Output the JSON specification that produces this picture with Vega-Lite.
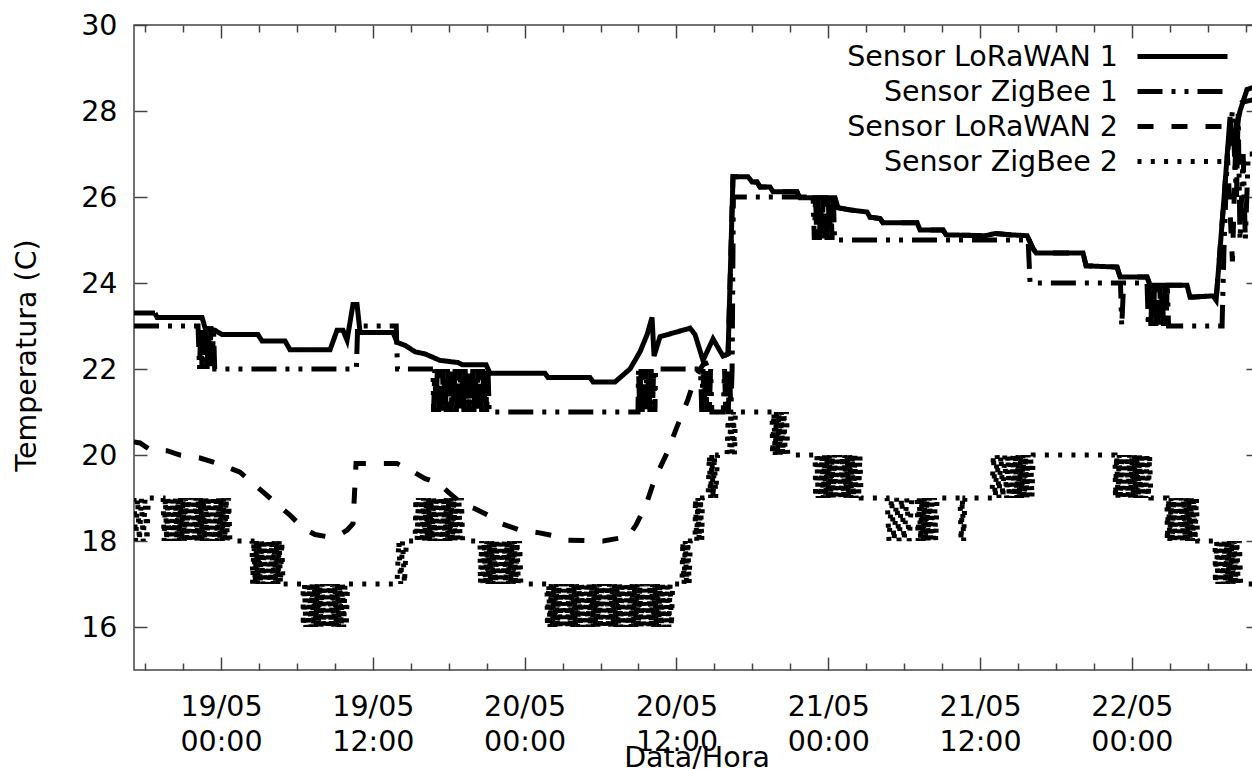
{
"$schema": "https://vega.github.io/schema/vega-lite/v6.json",
"width": 1125, "height": 645,
"autosize": {"type": "none"},
"padding": {"left": 134, "top": 25, "right": 0, "bottom": 99},
"background": "white",
"config": {
  "font": "DejaVu Sans",
  "view": {"stroke": "#444444", "strokeWidth": 1.5},
  "axis": {"domain": false, "grid": false, "tickColor": "#444444", "tickWidth": 1.5, "labelColor": "black", "titleColor": "black", "labelFont": "DejaVu Sans", "titleFont": "DejaVu Sans", "labelFontSize": 28.5, "titleFontSize": 28.5, "titleFontWeight": "normal"}
},
"datasets": {
"l1": [{"h":17.12,"v":23.3},{"h":18.78,"v":23.3},{"h":18.94,"v":23.2},{"h":22.5,"v":23.2},{"h":22.74,"v":22.95},{"h":23.53,"v":22.9},{"h":24.08,"v":22.8},{"h":26.92,"v":22.8},{"h":27.24,"v":22.65},{"h":29.06,"v":22.65},{"h":29.45,"v":22.45},{"h":32.62,"v":22.45},{"h":33.17,"v":22.9},{"h":33.64,"v":22.9},{"h":33.96,"v":22.67},{"h":34.43,"v":23.5},{"h":34.75,"v":23.5},{"h":34.99,"v":22.85},{"h":37.6,"v":22.85},{"h":37.91,"v":22.62},{"h":38.55,"v":22.55},{"h":39.34,"v":22.4},{"h":40.13,"v":22.35},{"h":41.31,"v":22.2},{"h":42.74,"v":22.15},{"h":43.05,"v":22.1},{"h":44.95,"v":22.1},{"h":45.26,"v":21.9},{"h":49.61,"v":21.9},{"h":49.85,"v":21.8},{"h":53.17,"v":21.8},{"h":53.41,"v":21.7},{"h":55.15,"v":21.7},{"h":55.54,"v":21.8},{"h":56.33,"v":22.0},{"h":57.12,"v":22.4},{"h":57.68,"v":22.8},{"h":58.07,"v":23.2},{"h":58.23,"v":22.3},{"h":58.7,"v":22.75},{"h":59.89,"v":22.85},{"h":61.08,"v":22.95},{"h":61.47,"v":22.8},{"h":62.1,"v":22.2},{"h":62.89,"v":22.7},{"h":63.68,"v":22.3},{"h":64.08,"v":22.35},{"h":64.47,"v":26.47},{"h":65.66,"v":26.47},{"h":65.98,"v":26.35},{"h":66.37,"v":26.35},{"h":66.61,"v":26.23},{"h":67.4,"v":26.23},{"h":67.64,"v":26.12},{"h":69.53,"v":26.12},{"h":69.77,"v":25.98},{"h":72.54,"v":25.98},{"h":72.77,"v":25.75},{"h":73.72,"v":25.7},{"h":75.07,"v":25.65},{"h":75.3,"v":25.53},{"h":76.09,"v":25.5},{"h":76.33,"v":25.4},{"h":79.02,"v":25.4},{"h":79.26,"v":25.23},{"h":81.08,"v":25.23},{"h":81.31,"v":25.12},{"h":84.4,"v":25.1},{"h":85.19,"v":25.15},{"h":86.37,"v":25.12},{"h":87.72,"v":25.1},{"h":88.19,"v":24.8},{"h":88.43,"v":24.7},{"h":92.14,"v":24.7},{"h":92.38,"v":24.4},{"h":94.83,"v":24.37},{"h":95.07,"v":24.14},{"h":97.2,"v":24.14},{"h":97.44,"v":23.95},{"h":100.36,"v":23.95},{"h":100.6,"v":23.67},{"h":102.42,"v":23.7},{"h":102.66,"v":23.6},{"h":103.29,"v":26.0},{"h":103.76,"v":27.86},{"h":104.0,"v":27.2},{"h":104.55,"v":28.0},{"h":105.1,"v":28.5},{"h":106.1,"v":28.6}],
"z1": [{"h":17.12,"v":23},{"h":22.18,"v":23},{"h":22.3,"v":22},{"h":22.4,"v":23},{"h":22.5,"v":22},{"h":22.6,"v":23},{"h":22.7,"v":22},{"h":22.8,"v":23},{"h":22.9,"v":22},{"h":23.0,"v":23},{"h":23.1,"v":22},{"h":23.2,"v":23},{"h":23.3,"v":22},{"h":23.4,"v":23},{"h":23.5,"v":22},{"h":34.7,"v":22},{"h":34.8,"v":23},{"h":37.85,"v":23},{"h":37.95,"v":22},{"h":40.76,"v":22},{"h":40.8,"v":21},{"h":40.9,"v":22},{"h":41.0,"v":21},{"h":41.1,"v":22},{"h":41.2,"v":21},{"h":41.3,"v":22},{"h":41.4,"v":21},{"h":41.5,"v":22},{"h":41.6,"v":21},{"h":41.7,"v":22},{"h":41.8,"v":21},{"h":41.9,"v":22},{"h":42.0,"v":21},{"h":42.1,"v":22},{"h":42.2,"v":21},{"h":42.3,"v":22},{"h":42.4,"v":21},{"h":42.5,"v":22},{"h":42.6,"v":21},{"h":42.7,"v":22},{"h":42.8,"v":21},{"h":42.9,"v":22},{"h":43.0,"v":21},{"h":43.1,"v":22},{"h":43.2,"v":21},{"h":43.3,"v":22},{"h":43.4,"v":21},{"h":43.5,"v":22},{"h":43.6,"v":21},{"h":43.7,"v":22},{"h":43.8,"v":21},{"h":43.9,"v":22},{"h":44.0,"v":21},{"h":44.1,"v":22},{"h":44.2,"v":21},{"h":44.3,"v":22},{"h":44.4,"v":21},{"h":44.5,"v":22},{"h":44.6,"v":21},{"h":44.7,"v":22},{"h":44.8,"v":21},{"h":44.9,"v":22},{"h":45.0,"v":21},{"h":45.1,"v":22},{"h":45.2,"v":21},{"h":56.96,"v":21},{"h":57.0,"v":22},{"h":57.1,"v":21},{"h":57.2,"v":22},{"h":57.3,"v":21},{"h":57.4,"v":22},{"h":57.5,"v":21},{"h":57.6,"v":22},{"h":57.7,"v":21},{"h":57.8,"v":22},{"h":57.9,"v":21},{"h":58.0,"v":22},{"h":58.1,"v":21},{"h":58.2,"v":22},{"h":58.3,"v":21},{"h":58.35,"v":22},{"h":61.9,"v":22},{"h":62.0,"v":21},{"h":62.1,"v":22},{"h":62.2,"v":21},{"h":62.3,"v":22},{"h":62.4,"v":21},{"h":62.5,"v":22},{"h":62.6,"v":21},{"h":62.7,"v":22},{"h":62.8,"v":21},{"h":63.7,"v":21},{"h":63.8,"v":22},{"h":63.9,"v":21},{"h":64.0,"v":22},{"h":64.1,"v":21},{"h":64.2,"v":22},{"h":64.3,"v":21},{"h":64.4,"v":22},{"h":64.5,"v":26},{"h":70.8,"v":26},{"h":70.9,"v":25},{"h":71.0,"v":26},{"h":71.1,"v":25},{"h":71.2,"v":26},{"h":71.3,"v":25},{"h":71.4,"v":26},{"h":71.5,"v":25},{"h":71.6,"v":26},{"h":71.7,"v":25},{"h":71.8,"v":26},{"h":71.9,"v":25},{"h":72.0,"v":26},{"h":72.1,"v":25},{"h":72.2,"v":26},{"h":72.3,"v":25},{"h":72.4,"v":26},{"h":72.5,"v":25},{"h":87.8,"v":25},{"h":87.95,"v":24},{"h":95.1,"v":24},{"h":95.2,"v":23},{"h":95.35,"v":24},{"h":97.2,"v":24},{"h":97.3,"v":23},{"h":97.4,"v":24},{"h":97.5,"v":23},{"h":97.6,"v":24},{"h":97.7,"v":23},{"h":97.8,"v":24},{"h":97.9,"v":23},{"h":98.0,"v":24},{"h":98.1,"v":23},{"h":98.2,"v":24},{"h":98.3,"v":23},{"h":98.4,"v":24},{"h":98.5,"v":23},{"h":98.6,"v":24},{"h":98.7,"v":23},{"h":98.8,"v":24},{"h":98.9,"v":23},{"h":103.13,"v":23},{"h":103.3,"v":25},{"h":103.55,"v":27},{"h":103.95,"v":28},{"h":104.27,"v":26},{"h":104.4,"v":28},{"h":104.55,"v":25},{"h":104.8,"v":27},{"h":104.97,"v":25},{"h":105.2,"v":27},{"h":106.1,"v":27}],
"l2": [{"h":17.12,"v":20.3},{"h":17.6,"v":20.28},{"h":18.39,"v":20.12},{"h":19.73,"v":20.1},{"h":20.76,"v":20.0},{"h":22.34,"v":19.93},{"h":23.76,"v":19.8},{"h":25.5,"v":19.6},{"h":26.29,"v":19.4},{"h":27.08,"v":19.2},{"h":27.87,"v":19.0},{"h":28.66,"v":18.8},{"h":29.45,"v":18.6},{"h":30.48,"v":18.3},{"h":31.43,"v":18.15},{"h":32.38,"v":18.1},{"h":33.4,"v":18.15},{"h":33.96,"v":18.25},{"h":34.43,"v":18.4},{"h":34.67,"v":19.8},{"h":35.38,"v":19.8},{"h":37.91,"v":19.8},{"h":38.94,"v":19.65},{"h":40.13,"v":19.45},{"h":41.15,"v":19.35},{"h":42.1,"v":19.1},{"h":43.13,"v":18.85},{"h":44.08,"v":18.75},{"h":45.1,"v":18.6},{"h":46.21,"v":18.4},{"h":47.64,"v":18.25},{"h":48.98,"v":18.2},{"h":50.64,"v":18.1},{"h":51.35,"v":18.02},{"h":54.2,"v":18.0},{"h":56.17,"v":18.1},{"h":56.8,"v":18.37},{"h":57.6,"v":18.84},{"h":58.3,"v":19.46},{"h":59.26,"v":20.05},{"h":59.97,"v":20.6},{"h":60.92,"v":21.3},{"h":61.47,"v":21.8},{"h":62.1,"v":22.1},{"h":63.68,"v":22.3},{"h":64.08,"v":22.35},{"h":64.47,"v":26.47},{"h":65.66,"v":26.47},{"h":65.98,"v":26.35},{"h":66.37,"v":26.35},{"h":66.61,"v":26.23},{"h":67.4,"v":26.23},{"h":67.64,"v":26.12},{"h":69.53,"v":26.12},{"h":69.77,"v":25.98},{"h":72.54,"v":25.98},{"h":72.77,"v":25.75},{"h":73.72,"v":25.7},{"h":75.07,"v":25.65},{"h":75.3,"v":25.53},{"h":76.09,"v":25.5},{"h":76.33,"v":25.4},{"h":79.02,"v":25.4},{"h":79.26,"v":25.23},{"h":81.08,"v":25.23},{"h":81.31,"v":25.12},{"h":84.4,"v":25.1},{"h":85.19,"v":25.15},{"h":86.37,"v":25.12},{"h":87.72,"v":25.1},{"h":88.19,"v":24.8},{"h":88.43,"v":24.7},{"h":92.14,"v":24.7},{"h":92.38,"v":24.4},{"h":94.83,"v":24.37},{"h":95.07,"v":24.14},{"h":97.2,"v":24.14},{"h":97.44,"v":23.95},{"h":100.36,"v":23.95},{"h":100.6,"v":23.67},{"h":102.42,"v":23.7},{"h":102.66,"v":23.6},{"h":103.29,"v":26.0},{"h":103.55,"v":27.0},{"h":103.95,"v":24.5},{"h":104.27,"v":27.9},{"h":104.7,"v":28.2},{"h":106.1,"v":28.3}],
"z2": [{"h":17.12,"v":19},{"h":17.25,"v":18},{"h":17.4,"v":19},{"h":17.55,"v":18},{"h":17.7,"v":19},{"h":17.85,"v":18},{"h":18.0,"v":19},{"h":18.15,"v":18},{"h":18.25,"v":19},{"h":19.42,"v":19},
{"h":19.5,"v":18},{"h":19.6,"v":19},{"h":19.7,"v":18},{"h":19.8,"v":19},{"h":19.9,"v":18},{"h":20.0,"v":19},{"h":20.1,"v":18},{"h":20.2,"v":19},{"h":20.3,"v":18},{"h":20.4,"v":19},{"h":20.5,"v":18},{"h":20.6,"v":19},{"h":20.7,"v":18},{"h":20.8,"v":19},{"h":20.9,"v":18},{"h":21.0,"v":19},{"h":21.1,"v":18},{"h":21.2,"v":19},{"h":21.3,"v":18},{"h":21.4,"v":19},{"h":21.5,"v":18},{"h":21.6,"v":19},{"h":21.7,"v":18},{"h":21.8,"v":19},{"h":21.9,"v":18},{"h":22.0,"v":19},{"h":22.1,"v":18},{"h":22.2,"v":19},{"h":22.3,"v":18},{"h":22.4,"v":19},{"h":22.5,"v":18},{"h":22.6,"v":19},{"h":22.7,"v":18},{"h":22.8,"v":19},{"h":22.9,"v":18},{"h":23.0,"v":19},{"h":23.1,"v":18},{"h":23.2,"v":19},{"h":23.3,"v":18},{"h":23.4,"v":19},{"h":23.5,"v":18},{"h":23.6,"v":19},{"h":23.7,"v":18},{"h":23.8,"v":19},{"h":23.9,"v":18},{"h":24.0,"v":19},{"h":24.1,"v":18},{"h":24.2,"v":19},{"h":24.3,"v":18},{"h":24.4,"v":19},{"h":24.5,"v":18},{"h":24.6,"v":19},{"h":24.7,"v":18},{"h":26.45,"v":18},
{"h":26.5,"v":17},{"h":26.6,"v":18},{"h":26.7,"v":17},{"h":26.8,"v":18},{"h":26.9,"v":17},{"h":27.0,"v":18},{"h":27.1,"v":17},{"h":27.2,"v":18},{"h":27.3,"v":17},{"h":27.4,"v":18},{"h":27.5,"v":17},{"h":27.6,"v":18},{"h":27.7,"v":17},{"h":27.8,"v":18},{"h":27.9,"v":17},{"h":28.0,"v":18},{"h":28.1,"v":17},{"h":28.2,"v":18},{"h":28.3,"v":17},{"h":28.4,"v":18},{"h":28.5,"v":17},{"h":28.6,"v":18},{"h":28.7,"v":17},{"h":28.8,"v":18},{"h":28.9,"v":17},{"h":30.48,"v":17},
{"h":30.5,"v":16},{"h":30.6,"v":17},{"h":30.7,"v":16},{"h":30.8,"v":17},{"h":30.9,"v":16},{"h":31.0,"v":17},{"h":31.1,"v":16},{"h":31.2,"v":17},{"h":31.3,"v":16},{"h":31.4,"v":17},{"h":31.5,"v":16},{"h":31.6,"v":17},{"h":31.7,"v":16},{"h":31.8,"v":17},{"h":31.9,"v":16},{"h":32.0,"v":17},{"h":32.1,"v":16},{"h":32.2,"v":17},{"h":32.3,"v":16},{"h":32.4,"v":17},{"h":32.5,"v":16},{"h":32.6,"v":17},{"h":32.7,"v":16},{"h":32.8,"v":17},{"h":32.9,"v":16},{"h":33.0,"v":17},{"h":33.1,"v":16},{"h":33.2,"v":17},{"h":33.3,"v":16},{"h":33.4,"v":17},{"h":33.5,"v":16},{"h":33.6,"v":17},{"h":33.7,"v":16},{"h":33.8,"v":17},{"h":33.9,"v":16},{"h":34.0,"v":17},{"h":37.91,"v":17},
{"h":38.05,"v":18},{"h":38.2,"v":17},{"h":38.35,"v":18},{"h":38.5,"v":17},{"h":38.65,"v":18},{"h":39.34,"v":18},
{"h":39.4,"v":19},{"h":39.5,"v":18},{"h":39.6,"v":19},{"h":39.7,"v":18},{"h":39.8,"v":19},{"h":39.9,"v":18},{"h":40.0,"v":19},{"h":40.1,"v":18},{"h":40.2,"v":19},{"h":40.3,"v":18},{"h":40.4,"v":19},{"h":40.5,"v":18},{"h":40.6,"v":19},{"h":40.7,"v":18},{"h":40.8,"v":19},{"h":40.9,"v":18},{"h":41.0,"v":19},{"h":41.1,"v":18},{"h":41.2,"v":19},{"h":41.3,"v":18},{"h":41.4,"v":19},{"h":41.5,"v":18},{"h":41.6,"v":19},{"h":41.7,"v":18},{"h":41.8,"v":19},{"h":41.9,"v":18},{"h":42.0,"v":19},{"h":42.1,"v":18},{"h":42.2,"v":19},{"h":42.3,"v":18},{"h":42.4,"v":19},{"h":42.5,"v":18},{"h":42.6,"v":19},{"h":42.7,"v":18},{"h":42.8,"v":19},{"h":42.9,"v":18},{"h":43.0,"v":19},{"h":43.1,"v":18},{"h":44.47,"v":18},
{"h":44.5,"v":17},{"h":44.6,"v":18},{"h":44.7,"v":17},{"h":44.8,"v":18},{"h":44.9,"v":17},{"h":45.0,"v":18},{"h":45.1,"v":17},{"h":45.2,"v":18},{"h":45.3,"v":17},{"h":45.4,"v":18},{"h":45.5,"v":17},{"h":45.6,"v":18},{"h":45.7,"v":17},{"h":45.8,"v":18},{"h":45.9,"v":17},{"h":46.0,"v":18},{"h":46.1,"v":17},{"h":46.2,"v":18},{"h":46.3,"v":17},{"h":46.4,"v":18},{"h":46.5,"v":17},{"h":46.6,"v":18},{"h":46.7,"v":17},{"h":46.8,"v":18},{"h":46.9,"v":17},{"h":47.0,"v":18},{"h":47.1,"v":17},{"h":47.2,"v":18},{"h":47.3,"v":17},{"h":47.4,"v":18},{"h":47.5,"v":17},{"h":47.6,"v":18},{"h":47.7,"v":17},{"h":49.77,"v":17},
{"h":49.8,"v":16},{"h":49.9,"v":17},{"h":50.0,"v":16},{"h":50.1,"v":17},{"h":50.2,"v":16},{"h":50.3,"v":17},{"h":50.4,"v":16},{"h":50.5,"v":17},{"h":50.6,"v":16},{"h":50.7,"v":17},{"h":50.8,"v":16},{"h":50.9,"v":17},{"h":51.0,"v":16},{"h":51.1,"v":17},{"h":51.2,"v":16},{"h":51.3,"v":17},{"h":51.4,"v":16},{"h":51.5,"v":17},{"h":51.6,"v":16},{"h":51.7,"v":17},{"h":51.8,"v":16},{"h":51.9,"v":17},{"h":52.0,"v":16},{"h":52.1,"v":17},{"h":52.2,"v":16},{"h":52.3,"v":17},{"h":52.4,"v":16},{"h":52.5,"v":17},{"h":52.6,"v":16},{"h":52.7,"v":17},{"h":52.8,"v":16},{"h":52.9,"v":17},{"h":53.0,"v":16},{"h":53.1,"v":17},{"h":53.2,"v":16},{"h":53.3,"v":17},{"h":53.4,"v":16},{"h":53.5,"v":17},{"h":53.6,"v":16},{"h":53.7,"v":17},{"h":53.8,"v":16},{"h":53.9,"v":17},{"h":54.0,"v":16},{"h":54.1,"v":17},{"h":54.2,"v":16},{"h":54.3,"v":17},{"h":54.4,"v":16},{"h":54.5,"v":17},{"h":54.6,"v":16},{"h":54.7,"v":17},{"h":54.8,"v":16},{"h":54.9,"v":17},{"h":55.0,"v":16},{"h":55.1,"v":17},{"h":55.2,"v":16},{"h":55.3,"v":17},{"h":55.4,"v":16},{"h":55.5,"v":17},{"h":55.6,"v":16},{"h":55.7,"v":17},{"h":55.8,"v":16},{"h":55.9,"v":17},{"h":56.0,"v":16},{"h":56.1,"v":17},{"h":56.2,"v":16},{"h":56.3,"v":17},{"h":56.4,"v":16},{"h":56.5,"v":17},{"h":56.6,"v":16},{"h":56.7,"v":17},{"h":56.8,"v":16},{"h":56.9,"v":17},{"h":57.0,"v":16},{"h":57.1,"v":17},{"h":57.2,"v":16},{"h":57.3,"v":17},{"h":57.4,"v":16},{"h":57.5,"v":17},{"h":57.6,"v":16},{"h":57.7,"v":17},{"h":57.8,"v":16},{"h":57.9,"v":17},{"h":58.0,"v":16},{"h":58.1,"v":17},{"h":58.2,"v":16},{"h":58.3,"v":17},{"h":58.4,"v":16},{"h":58.5,"v":17},{"h":58.6,"v":16},{"h":58.7,"v":17},{"h":58.8,"v":16},{"h":58.9,"v":17},{"h":59.0,"v":16},{"h":59.1,"v":17},{"h":59.2,"v":16},{"h":59.3,"v":17},{"h":59.4,"v":16},{"h":59.5,"v":17},{"h":59.6,"v":16},{"h":59.7,"v":17},{"h":60.44,"v":17},
{"h":60.5,"v":18},{"h":60.6,"v":17},{"h":60.7,"v":18},{"h":60.8,"v":17},{"h":60.9,"v":18},{"h":61.0,"v":17},{"h":61.1,"v":18},{"h":61.47,"v":18},
{"h":61.5,"v":19},{"h":61.6,"v":18},{"h":61.7,"v":19},{"h":61.8,"v":18},{"h":61.9,"v":19},{"h":62.0,"v":18},{"h":62.05,"v":19},{"h":62.5,"v":19},
{"h":62.6,"v":20},{"h":62.7,"v":19},{"h":62.8,"v":20},{"h":62.9,"v":19},{"h":63.0,"v":20},{"h":63.1,"v":19},{"h":63.25,"v":20},{"h":64.0,"v":20},
{"h":64.1,"v":21},{"h":64.2,"v":20},{"h":64.3,"v":21},{"h":64.4,"v":20},{"h":64.5,"v":21},{"h":64.6,"v":20},{"h":64.65,"v":21},{"h":67.56,"v":21},
{"h":67.6,"v":20},{"h":67.7,"v":21},{"h":67.8,"v":20},{"h":67.9,"v":21},{"h":68.0,"v":20},{"h":68.1,"v":21},{"h":68.2,"v":20},{"h":68.3,"v":21},{"h":68.4,"v":20},{"h":68.5,"v":21},{"h":68.6,"v":20},{"h":68.7,"v":21},{"h":68.8,"v":20},{"h":70.96,"v":20},
{"h":71.0,"v":19},{"h":71.1,"v":20},{"h":71.2,"v":19},{"h":71.3,"v":20},{"h":71.4,"v":19},{"h":71.5,"v":20},{"h":71.6,"v":19},{"h":71.7,"v":20},{"h":71.8,"v":19},{"h":71.9,"v":20},{"h":72.0,"v":19},{"h":72.1,"v":20},{"h":72.2,"v":19},{"h":72.3,"v":20},{"h":72.4,"v":19},{"h":72.5,"v":20},{"h":72.6,"v":19},{"h":72.7,"v":20},{"h":72.8,"v":19},{"h":72.9,"v":20},{"h":73.0,"v":19},{"h":73.1,"v":20},{"h":73.2,"v":19},{"h":73.3,"v":20},{"h":73.4,"v":19},{"h":73.5,"v":20},{"h":73.6,"v":19},{"h":73.7,"v":20},{"h":73.8,"v":19},{"h":73.9,"v":20},{"h":74.0,"v":19},{"h":74.1,"v":20},{"h":74.2,"v":19},{"h":74.3,"v":20},{"h":74.4,"v":19},{"h":74.5,"v":20},{"h":74.6,"v":19},{"h":76.65,"v":19},
{"h":76.8,"v":18},{"h":77.0,"v":19},{"h":77.2,"v":18},{"h":77.4,"v":19},{"h":77.6,"v":18},{"h":77.8,"v":19},{"h":78.0,"v":18},{"h":78.2,"v":19},{"h":78.4,"v":18},{"h":78.6,"v":19},{"h":79.02,"v":19},
{"h":79.1,"v":18},{"h":79.2,"v":19},{"h":79.3,"v":18},{"h":79.4,"v":19},{"h":79.5,"v":18},{"h":79.6,"v":19},{"h":79.7,"v":18},{"h":79.8,"v":19},{"h":79.9,"v":18},{"h":80.0,"v":19},{"h":80.1,"v":18},{"h":80.2,"v":19},{"h":80.3,"v":18},{"h":80.4,"v":19},{"h":80.5,"v":18},{"h":80.6,"v":19},{"h":82.42,"v":19},
{"h":82.5,"v":18},{"h":82.6,"v":19},{"h":82.7,"v":18},{"h":82.8,"v":19},{"h":84.94,"v":19},
{"h":85.05,"v":20},{"h":85.2,"v":19},{"h":85.35,"v":20},{"h":85.5,"v":19},{"h":85.65,"v":20},{"h":85.8,"v":19},{"h":85.95,"v":20},{"h":86.1,"v":19},
{"h":86.2,"v":20},{"h":86.3,"v":19},{"h":86.4,"v":20},{"h":86.5,"v":19},{"h":86.6,"v":20},{"h":86.7,"v":19},{"h":86.8,"v":20},{"h":86.9,"v":19},{"h":87.0,"v":20},{"h":87.1,"v":19},{"h":87.2,"v":20},{"h":87.3,"v":19},{"h":87.4,"v":20},{"h":87.5,"v":19},{"h":87.6,"v":20},{"h":87.7,"v":19},{"h":87.8,"v":20},{"h":87.9,"v":19},{"h":88.0,"v":20},{"h":88.1,"v":19},{"h":88.2,"v":20},{"h":94.67,"v":20},
{"h":94.7,"v":19},{"h":94.8,"v":20},{"h":94.9,"v":19},{"h":95.0,"v":20},{"h":95.1,"v":19},{"h":95.2,"v":20},{"h":95.3,"v":19},{"h":95.4,"v":20},{"h":95.5,"v":19},{"h":95.6,"v":20},{"h":95.7,"v":19},{"h":95.8,"v":20},{"h":95.9,"v":19},{"h":96.0,"v":20},{"h":96.1,"v":19},{"h":96.2,"v":20},{"h":96.3,"v":19},{"h":96.4,"v":20},{"h":96.5,"v":19},{"h":96.6,"v":20},{"h":96.7,"v":19},{"h":96.8,"v":20},{"h":96.9,"v":19},{"h":97.0,"v":20},{"h":97.1,"v":19},{"h":97.2,"v":20},{"h":97.3,"v":19},{"h":97.4,"v":20},{"h":97.5,"v":19},{"h":98.78,"v":19},
{"h":98.8,"v":18},{"h":98.9,"v":19},{"h":99.0,"v":18},{"h":99.1,"v":19},{"h":99.2,"v":18},{"h":99.3,"v":19},{"h":99.4,"v":18},{"h":99.5,"v":19},{"h":99.6,"v":18},{"h":99.7,"v":19},{"h":99.8,"v":18},{"h":99.9,"v":19},{"h":100.0,"v":18},{"h":100.1,"v":19},{"h":100.2,"v":18},{"h":100.3,"v":19},{"h":100.4,"v":18},{"h":100.5,"v":19},{"h":100.6,"v":18},{"h":100.7,"v":19},{"h":100.8,"v":18},{"h":100.9,"v":19},{"h":101.0,"v":18},{"h":101.1,"v":19},{"h":101.2,"v":18},{"h":102.58,"v":18},
{"h":102.6,"v":17},{"h":102.7,"v":18},{"h":102.8,"v":17},{"h":102.9,"v":18},{"h":103.0,"v":17},{"h":103.1,"v":18},{"h":103.2,"v":17},{"h":103.3,"v":18},{"h":103.4,"v":17},{"h":103.5,"v":18},{"h":103.6,"v":17},{"h":103.7,"v":18},{"h":103.8,"v":17},{"h":103.9,"v":18},{"h":104.0,"v":17},{"h":104.1,"v":18},{"h":104.2,"v":17},{"h":104.3,"v":18},{"h":104.4,"v":17},{"h":104.5,"v":18},{"h":104.6,"v":17},{"h":106.1,"v":17}]
},
"resolve": {"axis": {"x": "independent", "y": "independent"}},
"layer": [
  {"data": {"name": "l1"},
   "mark": {"type": "line", "color": "black", "strokeWidth": 5, "clip": true},
   "encoding": {
     "x": {"field": "h", "type": "quantitative", "scale": {"domain": [17.12, 106.05], "nice": false, "zero": false},
           "axis": {"orient": "bottom", "values": [24, 36, 48, 60, 72, 84, 96], "tickSize": -13, "labelPadding": 35, "labelLineHeight": 35, "labelBaseline": "top", "labelAlign": "center",
                    "labelExpr": "[(floor(datum.value/24)+18) + '/05', (datum.value % 24 == 0 ? '00:00' : '12:00')]",
                    "title": "Data/Hora", "titleBaseline": "alphabetic", "titleY": 96}},
     "y": {"field": "v", "type": "quantitative", "scale": {"domain": [15, 30], "nice": false, "zero": false},
           "axis": {"orient": "left", "values": [16, 18, 20, 22, 24, 26, 28, 30], "tickSize": -13, "labelPadding": 30, "title": "Temperatura (C)", "titleX": -99, "titleY": 330, "titleAngle": -90, "titleBaseline": "alphabetic", "titleAlign": "center"}},
     "strokeDash": {"datum": "Sensor LoRaWAN 1", "type": "nominal",
           "scale": {"domain": ["Sensor LoRaWAN 1", "Sensor ZigBee 1", "Sensor LoRaWAN 2", "Sensor ZigBee 2"], "range": [[1, 0], [25, 9, 4, 9, 4, 9], [16, 18], [4, 9.3]]},
           "legend": {"orient": "none", "legendX": 1031, "legendY": 14, "title": null, "padding": 0, "symbolType": "M-3,0H3", "symbolSize": 900, "symbolStrokeWidth": 5, "symbolStrokeColor": "black", "symbolFillColor": "transparent", "labelFont": "DejaVu Sans", "labelFontSize": 28.5, "labelColor": "black", "labelAlign": "right", "labelOffset": -82, "rowPadding": 3, "labelLimit": 0}}
   }},
  {"data": {"name": "z1"},
   "mark": {"type": "line", "color": "black", "strokeWidth": 5, "clip": true},
   "encoding": {
     "x": {"field": "h", "type": "quantitative", "axis": {"orient": "bottom", "values": [18, 21, 27, 30, 33, 39, 42, 45, 51, 54, 57, 63, 66, 69, 75, 78, 81, 87, 90, 93, 99, 102, 105], "tickSize": -7, "labels": false, "title": null}},
     "y": {"field": "v", "type": "quantitative", "axis": {"orient": "right", "values": [16, 18, 20, 22, 24, 26, 28, 30], "tickSize": -13, "labels": false, "title": null}},
     "strokeDash": {"datum": "Sensor ZigBee 1", "type": "nominal"}
   }},
  {"data": {"name": "l2"},
   "mark": {"type": "line", "color": "black", "strokeWidth": 5, "clip": true},
   "encoding": {
     "x": {"field": "h", "type": "quantitative", "axis": {"orient": "top", "values": [24, 36, 48, 60, 72, 84, 96], "tickSize": -13, "labels": false, "title": null}},
     "y": {"field": "v", "type": "quantitative", "axis": null},
     "strokeDash": {"datum": "Sensor LoRaWAN 2", "type": "nominal"}
   }},
  {"data": {"name": "z2"},
   "mark": {"type": "line", "color": "black", "strokeWidth": 5, "clip": true},
   "encoding": {
     "x": {"field": "h", "type": "quantitative", "axis": {"orient": "top", "values": [18, 21, 27, 30, 33, 39, 42, 45, 51, 54, 57, 63, 66, 69, 75, 78, 81, 87, 90, 93, 99, 102, 105], "tickSize": -7, "labels": false, "title": null}},
     "y": {"field": "v", "type": "quantitative", "axis": null},
     "strokeDash": {"datum": "Sensor ZigBee 2", "type": "nominal"}
   }}
]
}
